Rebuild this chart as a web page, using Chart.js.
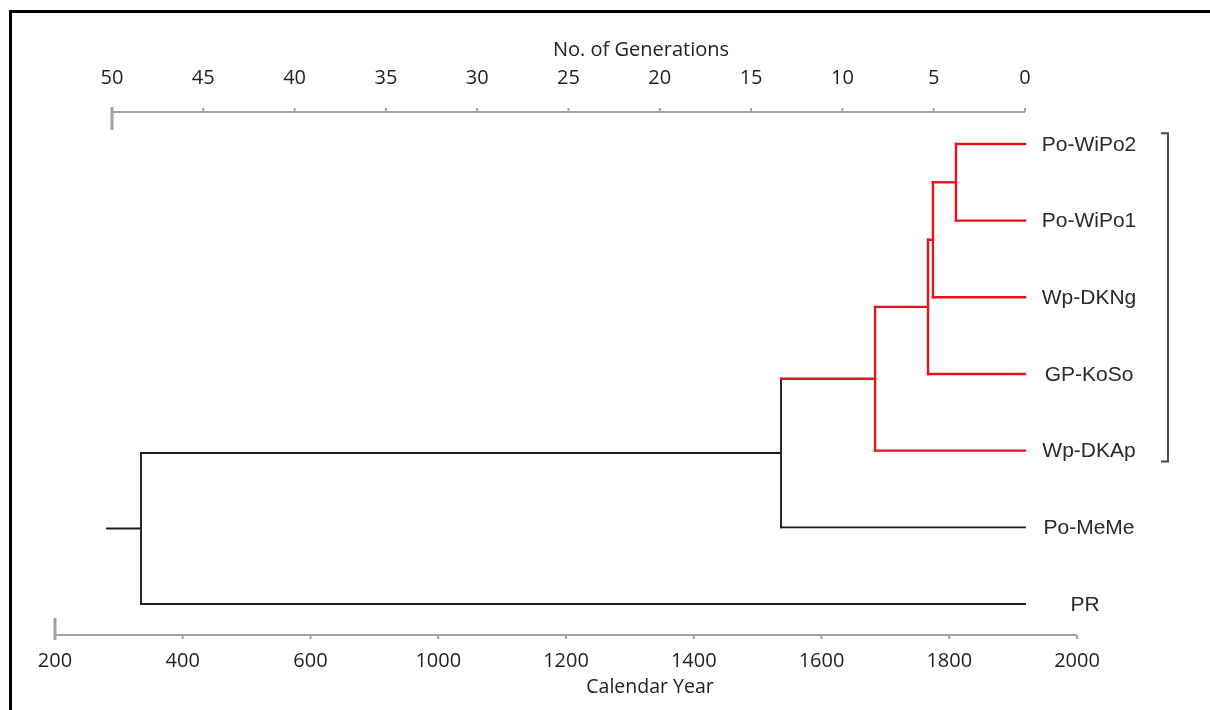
<!DOCTYPE html>
<html>
<head>
<meta charset="utf-8">
<script src="https://cdn.jsdelivr.net/npm/chart.js@4.4.1/dist/chart.umd.min.js"></script>
<style>
  html, body { margin: 0; padding: 0; width: 1210px; height: 710px; overflow: hidden; background: #ffffff; }
  #frame { position: absolute; left: 9px; top: 10px; width: 1400px; height: 900px; border: 3px solid #000; box-sizing: border-box; }
  #c { position: absolute; left: 0; top: 0; }
</style>
</head>
<body>
<div id="frame"></div>
<canvas id="c" width="1210" height="710"></canvas>
<script>
// ---------------- data ----------------
const leafNames = ['Po-WiPo2', 'Po-WiPo1', 'Wp-DKNg', 'GP-KoSo', 'Wp-DKAp', 'Po-MeMe', 'PR'];
// internal nodes: children and height in generations
const nodeNames  = ['n1', 'n2', 'n3', 'n4', 'n5', 'n6'];
const nodeChildA = ['Po-WiPo2', 'n1', 'n2', 'n3', 'n4', 'n5'];
const nodeChildB = ['Po-WiPo1', 'Wp-DKNg', 'GP-KoSo', 'Wp-DKAp', 'Po-MeMe', 'PR'];
const nodeGen    = [3.78, 5.04, 5.31, 8.21, 13.36, 48.41];
const rootStubGen = 50.27;
const redClade = ['Po-WiPo2', 'Po-WiPo1', 'Wp-DKNg', 'GP-KoSo', 'Wp-DKAp', 'n1', 'n2', 'n3', 'n4'];
// axes
const genTicks  = [0, 5, 10, 15, 20, 25, 30, 35, 40, 45, 50];
const yearTicks = ['200', '400', '600', '1000', '1200', '1400', '1600', '1800', '2000'];
const bracketRange = [-0.14, 4.14];

// ---------------- layout of the tree from the data ----------------
const gen = {}, ypos = {};
leafNames.forEach((n, i) => { gen[n] = 0; ypos[n] = i; });
nodeNames.forEach((n, i) => {
  gen[n] = nodeGen[i];
  ypos[n] = (ypos[nodeChildA[i]] + ypos[nodeChildB[i]]) / 2;
});
const RED = '#e3141c', BLACK = '#1e1e1e';
const colorOf = n => redClade.includes(n) ? RED : BLACK;
const widthOf = n => redClade.includes(n) ? 2.4 : 1.9;

const datasets = [];
function seg(pts, name) {
  datasets.push({
    data: pts, showLine: true, borderColor: colorOf(name), borderWidth: widthOf(name),
    pointRadius: 0, pointHoverRadius: 0, fill: false, xAxisID: 'x', yAxisID: 'y', clip: false,
    borderCapStyle: 'square'
  });
}
nodeNames.forEach((n, i) => {
  const a = nodeChildA[i], b = nodeChildB[i];
  seg([{x: gen[a], y: ypos[a]}, {x: gen[n], y: ypos[a]}], a);
  seg([{x: gen[b], y: ypos[b]}, {x: gen[n], y: ypos[b]}], b);
  seg([{x: gen[n], y: ypos[a]}, {x: gen[n], y: ypos[b]}], n);
});
const root = nodeNames[nodeNames.length - 1];
seg([{x: gen[root], y: ypos[root]}, {x: rootStubGen, y: ypos[root]}], root);

// ---------------- drawing helpers ----------------
const AXIS_GRAY = '#a3a3a3';
const decor = {
  id: 'decor',
  afterDraw(chart) {
    const ctx = chart.ctx;
    const xs = chart.scales.x, xb = chart.scales.xb, ys = chart.scales.y;
    ctx.save();
    // top axis (generations)
    const ty = xs.bottom;
    ctx.strokeStyle = AXIS_GRAY; ctx.lineWidth = 2;
    ctx.beginPath();
    ctx.moveTo(xs.getPixelForValue(50), ty); ctx.lineTo(xs.getPixelForValue(0), ty);
    ctx.stroke();
    genTicks.forEach(v => {
      const px = xs.getPixelForValue(v);
      ctx.beginPath();
      if (v === 50) { ctx.lineWidth = 3; ctx.moveTo(px, ty - 5); ctx.lineTo(px, ty + 18); }
      else { ctx.lineWidth = 2; ctx.moveTo(px, ty - 4); ctx.lineTo(px, ty); }
      ctx.stroke();
    });
    // bottom axis (calendar year)
    const by = xb.top;
    ctx.lineWidth = 2;
    ctx.beginPath();
    ctx.moveTo(xb.getPixelForValue(0), by); ctx.lineTo(xb.getPixelForValue(yearTicks.length - 1), by);
    ctx.stroke();
    yearTicks.forEach((t, i) => {
      const px = xb.getPixelForValue(i);
      ctx.beginPath();
      if (i === 0) { ctx.lineWidth = 3; ctx.moveTo(px, by - 17); ctx.lineTo(px, by + 5); }
      else { ctx.lineWidth = 2; ctx.moveTo(px, by); ctx.lineTo(px, by + 4); }
      ctx.stroke();
    });
    // axis titles
    ctx.fillStyle = '#222';
    ctx.textAlign = 'center'; ctx.textBaseline = 'middle';
    ctx.font = '20px "Open Sans"';
    ctx.fillText('No. of Generations', xs.getPixelForValue(0) - 384, 50);
    ctx.font = '19.5px "Open Sans"';
    ctx.fillText('Calendar Year', xs.getPixelForValue(0) - 375, 687);
    // leaf labels
    ctx.fillStyle = '#2a2a2a';
    ctx.font = '21px "Liberation Sans", Arial, sans-serif';
    const lx = xs.getPixelForValue(0) + 64;
    leafNames.forEach(n => {
      ctx.fillText(n, n === 'PR' ? lx - 4 : lx, ys.getPixelForValue(ypos[n]) + 1);
    });
    // bracket
    const bx = xs.getPixelForValue(0) + 143;
    const y0 = ys.getPixelForValue(bracketRange[0]), y1 = ys.getPixelForValue(bracketRange[1]);
    ctx.strokeStyle = '#4a4a4a'; ctx.lineWidth = 2;
    ctx.beginPath();
    ctx.moveTo(bx - 7, y0); ctx.lineTo(bx, y0); ctx.lineTo(bx, y1); ctx.lineTo(bx - 7, y1);
    ctx.stroke();
    ctx.restore();
  }
};

new Chart(document.getElementById('c'), {
  type: 'scatter',
  data: { datasets },
  plugins: [decor],
  options: {
    responsive: false,
    animation: false,
    events: [],
    layout: { padding: { left: 55, right: 133, top: 0, bottom: 0 } },
    plugins: { legend: { display: false }, tooltip: { enabled: false } },
    scales: {
      x: {
        type: 'linear', position: 'top', reverse: true,
        min: -2.848, max: 53.12,
        grid: { display: false, drawTicks: false },
        border: { display: false },
        afterBuildTicks: s => { s.ticks = genTicks.map(v => ({ value: v })); },
        afterFit: s => { s.height = 112; },
        ticks: { padding: 22, maxRotation: 0, autoSkip: false, color: '#1f1f1f',
                 font: { family: 'Open Sans', size: 20 } }
      },
      xb: {
        type: 'linear', position: 'bottom',
        min: 0, max: yearTicks.length - 1,
        grid: { display: false, drawTicks: false },
        border: { display: false },
        afterBuildTicks: s => { s.ticks = yearTicks.map((t, i) => ({ value: i })); },
        afterFit: s => { s.height = 75; },
        ticks: { padding: 14, maxRotation: 0, autoSkip: false, color: '#1f1f1f',
                 font: { family: 'Open Sans', size: 20 },
                 callback: (v) => yearTicks[Math.round(v)] }
      },
      y: {
        type: 'linear', display: false, reverse: true,
        min: -0.417, max: 6.404
      }
    }
  }
});
</script>
</body>
</html>
